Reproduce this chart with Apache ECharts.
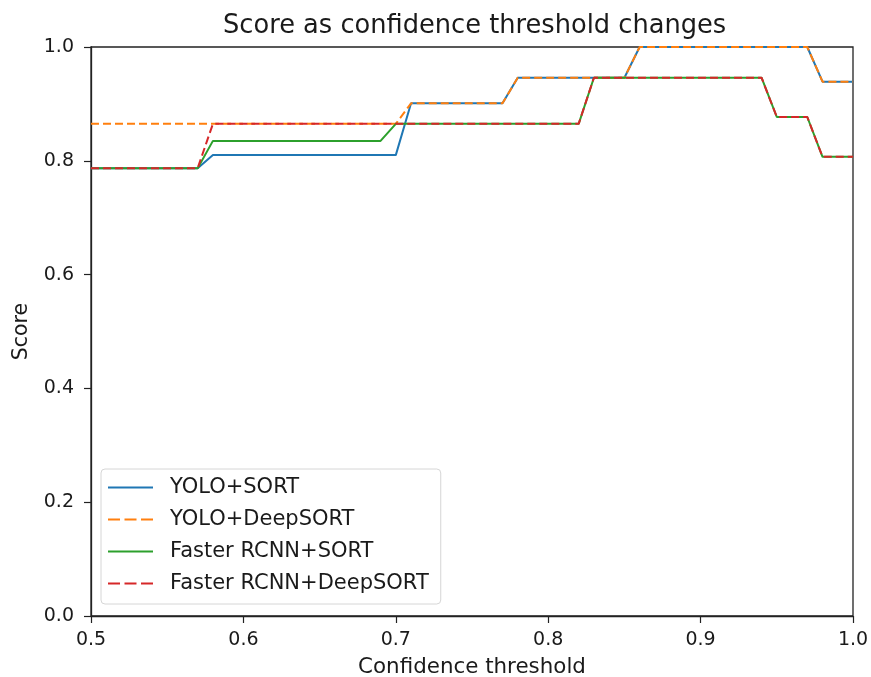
<!DOCTYPE html>
<html>
<head>
<meta charset="utf-8">
<script src="https://cdn.jsdelivr.net/npm/echarts@6/dist/echarts.min.js"></script>
<style>
  html, body { margin: 0; padding: 0; background: #ffffff; }
  #chart { width: 871px; height: 677px; }
</style>
</head>
<body>
<div id="chart"></div>
<script>
// Confidence thresholds (x values)
const thresholds = [
  0.50, 0.51, 0.52, 0.53, 0.54, 0.55, 0.56, 0.57, 0.58, 0.59,
  0.60, 0.61, 0.62, 0.63, 0.64, 0.65, 0.66, 0.67, 0.68, 0.69,
  0.70, 0.71, 0.72, 0.73, 0.74, 0.75, 0.76, 0.77, 0.78, 0.79,
  0.80, 0.81, 0.82, 0.83, 0.84, 0.85, 0.86, 0.87, 0.88, 0.89,
  0.90, 0.91, 0.92, 0.93, 0.94, 0.95, 0.96, 0.97, 0.98, 0.99,
  1.00
];

// Scores per tracker combination
const yoloSort = [
  0.787, 0.787, 0.787, 0.787, 0.787, 0.787, 0.787, 0.787, 0.810, 0.810,
  0.810, 0.810, 0.810, 0.810, 0.810, 0.810, 0.810, 0.810, 0.810, 0.810,
  0.810, 0.901, 0.901, 0.901, 0.901, 0.901, 0.901, 0.901, 0.946, 0.946,
  0.946, 0.946, 0.946, 0.946, 0.946, 0.946, 1.000, 1.000, 1.000, 1.000,
  1.000, 1.000, 1.000, 1.000, 1.000, 1.000, 1.000, 1.000, 0.939, 0.939,
  0.939
];
const yoloDeepSort = [
  0.865, 0.865, 0.865, 0.865, 0.865, 0.865, 0.865, 0.865, 0.865, 0.865,
  0.865, 0.865, 0.865, 0.865, 0.865, 0.865, 0.865, 0.865, 0.865, 0.865,
  0.865, 0.901, 0.901, 0.901, 0.901, 0.901, 0.901, 0.901, 0.946, 0.946,
  0.946, 0.946, 0.946, 0.946, 0.946, 0.946, 1.000, 1.000, 1.000, 1.000,
  1.000, 1.000, 1.000, 1.000, 1.000, 1.000, 1.000, 1.000, 0.939, 0.939,
  0.939
];
const frcnnSort = [
  0.787, 0.787, 0.787, 0.787, 0.787, 0.787, 0.787, 0.787, 0.835, 0.835,
  0.835, 0.835, 0.835, 0.835, 0.835, 0.835, 0.835, 0.835, 0.835, 0.835,
  0.865, 0.865, 0.865, 0.865, 0.865, 0.865, 0.865, 0.865, 0.865, 0.865,
  0.865, 0.865, 0.865, 0.946, 0.946, 0.946, 0.946, 0.946, 0.946, 0.946,
  0.946, 0.946, 0.946, 0.946, 0.946, 0.877, 0.877, 0.877, 0.807, 0.807,
  0.807
];
const frcnnDeepSort = [
  0.787, 0.787, 0.787, 0.787, 0.787, 0.787, 0.787, 0.787, 0.865, 0.865,
  0.865, 0.865, 0.865, 0.865, 0.865, 0.865, 0.865, 0.865, 0.865, 0.865,
  0.865, 0.865, 0.865, 0.865, 0.865, 0.865, 0.865, 0.865, 0.865, 0.865,
  0.865, 0.865, 0.865, 0.946, 0.946, 0.946, 0.946, 0.946, 0.946, 0.946,
  0.946, 0.946, 0.946, 0.946, 0.946, 0.877, 0.877, 0.877, 0.807, 0.807,
  0.807
];

const seriesNames = ['YOLO+SORT', 'YOLO+DeepSORT', 'Faster RCNN+SORT', 'Faster RCNN+DeepSORT'];
const seriesValues = [yoloSort, yoloDeepSort, frcnnSort, frcnnDeepSort];
const seriesColors = ['#1f77b4', '#ff7f0e', '#2ca02c', '#d62728'];
const seriesDashed = [false, true, false, true];

const xTicks = [0.5, 0.6, 0.7, 0.8, 0.9, 1.0];
const yTicks = [0.0, 0.2, 0.4, 0.6, 0.8, 1.0];

const FONT = 'DejaVu Sans';
const INK = '#1a1a1a';

// Legend keys: a solid stroke or three dashes
const SOLID_KEY = 'path://M0,0 L45,0 L45,2 L0,2 Z';
const DASHED_KEY = 'path://M0,0 L12,0 L12,2 L0,2 Z M16.5,0 L28.5,0 L28.5,2 L16.5,2 Z M33,0 L45,0 L45,2 L33,2 Z';

const chart = echarts.init(document.getElementById('chart'), null, { renderer: 'canvas' });

const series = seriesNames.map((name, i) => ({
  name: name,
  type: 'line',
  data: thresholds.map((x, k) => [x, seriesValues[i][k]]),
  showSymbol: false,
  symbol: 'none',
  animation: false,
  color: seriesColors[i],
  lineStyle: {
    color: seriesColors[i],
    width: 2,
    type: seriesDashed[i] ? [8, 4] : 'solid'
  },
  itemStyle: { color: seriesColors[i] },
  z: 2 + i
}));

chart.setOption({
  backgroundColor: '#ffffff',
  animation: false,
  title: {
    text: 'Score as confidence threshold changes',
    left: 218,
    top: 8,
    textStyle: { fontFamily: FONT, fontSize: 25.7, fontWeight: 'normal', color: INK }
  },
  grid: {
    left: 91, right: 18, top: 47, bottom: 61,
    outerBoundsMode: 'none',
    containLabel: false,
    show: true,
    borderColor: '#222222',
    borderWidth: 1.3,
    backgroundColor: '#ffffff'
  },
  legend: {
    orient: 'vertical',
    left: 101,
    top: 469,
    itemWidth: 45,
    itemHeight: 2,
    itemGap: 11,
    padding: [8, 12, 10, 7],
    backgroundColor: 'rgba(255,255,255,0.9)',
    borderColor: '#d6d6d6',
    borderWidth: 1,
    borderRadius: 4,
    z: 10,
    textStyle: { fontFamily: FONT, fontSize: 21, color: INK, padding: [0, 0, 0, 12] },
    data: seriesNames.map((n, i) => ({
      name: n,
      icon: seriesDashed[i] ? DASHED_KEY : SOLID_KEY,
      itemStyle: { color: seriesColors[i], borderWidth: 0 }
    }))
  },
  xAxis: {
    type: 'value',
    min: 0.5,
    max: 1.0,
    interval: 0.1,
    name: 'Confidence threshold',
    nameLocation: 'middle',
    nameGap: 41,
    nameTextStyle: { fontFamily: FONT, fontSize: 21.4, color: INK },
    axisLine: { show: true, onZero: false, lineStyle: { color: '#222222', width: 1.3 } },
    axisTick: { show: true, inside: false, length: 7, lineStyle: { color: '#222222', width: 1.2 } },
    axisLabel: {
      fontFamily: FONT, fontSize: 19, color: INK, margin: 15,
      formatter: v => xTicks.find(t => Math.abs(t - v) < 1e-6).toFixed(1)
    },
    splitLine: { show: false }
  },
  yAxis: {
    type: 'value',
    min: 0,
    max: 1.0,
    interval: 0.2,
    name: 'Score',
    nameLocation: 'middle',
    nameGap: 59,
    nameRotate: 90,
    nameTextStyle: { fontFamily: FONT, fontSize: 20.5, color: INK },
    axisLine: { show: true, onZero: false, lineStyle: { color: '#222222', width: 1.3 } },
    axisTick: { show: true, inside: false, length: 7, lineStyle: { color: '#222222', width: 1.2 } },
    axisLabel: {
      fontFamily: FONT, fontSize: 19, color: INK, margin: 17,
      formatter: v => yTicks.find(t => Math.abs(t - v) < 1e-6).toFixed(1)
    },
    splitLine: { show: false }
  },
  series: series
});
</script>
</body>
</html>
